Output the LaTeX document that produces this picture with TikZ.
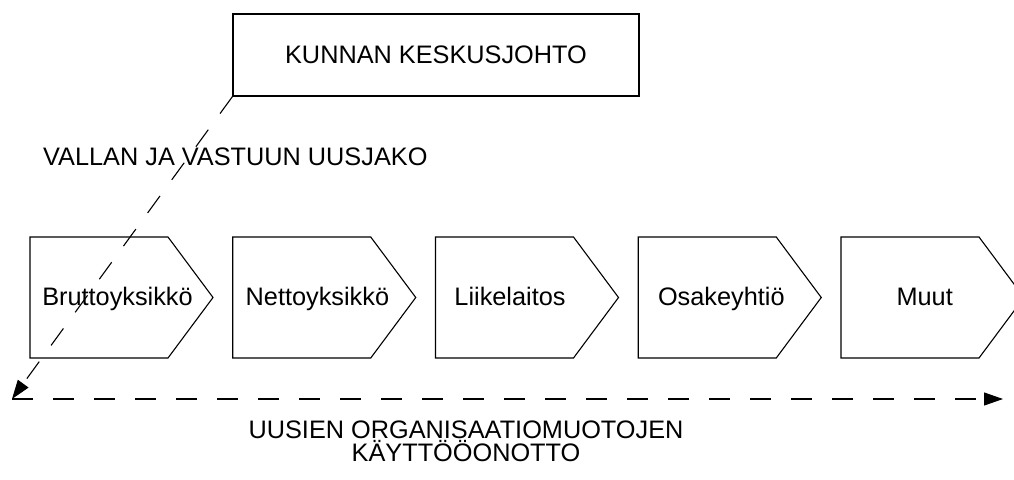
\documentclass[tikz,border=0pt]{standalone}
\usepackage{fontspec}
\setmainfont{Liberation Sans}
\usetikzlibrary{arrows.meta}
\begin{document}
\begin{tikzpicture}[x=1pt,y=-1pt,
  every node/.style={font=\fontsize{25.3}{23.7}\selectfont, inner sep=0pt},
  stage/.style={draw, line width=1.1pt, line join=miter},
  topbox/.style={draw, line width=1.1pt, minimum width=406pt, minimum height=82pt},
  flow/.style={line width=1.1pt, dash pattern=on 21pt off 20pt,
    -{Triangle[length=19pt,width=13pt]}}]
\useasboundingbox (0,0) rectangle (1014,479);
\clip (0,0) rectangle (1014,479);

% central management
\node[topbox] (top) at (436,55) {KUNNAN KESKUSJOHTO};

% label of the diagonal
\node[anchor=base west] (power) at (43,165) {VALLAN JA VASTUUN UUSJAKO};

% organisational forms as arrow-shaped stages
\foreach \x/\c/\t/\n in {30/117.5/Bruttoyksikkö/1, 232.75/317.4/Nettoyksikkö/2,
    435.5/510/Liikelaitos/3, 638.25/721.3/Osakeyhtiö/4, 841/924.7/Muut/5} {
  \draw[stage] (\x,237) -- ++(138,0) -- ++(45,60.5) -- ++(-45,60.5) -- ++(-138,0) -- cycle;
  \node[anchor=base] (s\n) at (\c,305.5) {\t};
}

% axes
\coordinate (origin) at (12,399);
\coordinate (far) at (1003,399);
\draw[flow] (origin) -- (far);
\draw[flow] (top.south west) -- (origin);

% label of the horizontal axis (anchored on the baseline of its last line)
\node[anchor=base, align=center] (adopt) at (466,461.7)
  {UUSIEN ORGANISAATIOMUOTOJEN\\KÄYTTÖÖONOTTO};
\end{tikzpicture}
\end{document}
